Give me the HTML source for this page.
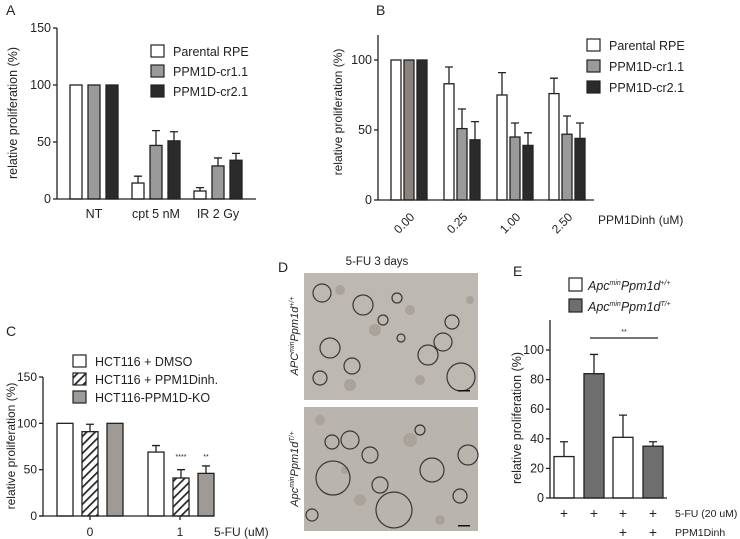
<!DOCTYPE html>
<html><head><meta charset="utf-8"><style>
html,body{margin:0;padding:0;background:#fff;}
svg{display:block;font-family:"Liberation Sans",sans-serif;}
text{fill:#222;}
</style></head><body>
<svg id="fig" width="740" height="539" viewBox="0 0 740 539">
<defs>
<pattern id="hatch" patternUnits="userSpaceOnUse" width="6" height="6" patternTransform="rotate(45)">
<rect width="6" height="6" fill="#fff"/><rect width="1.7" height="6" fill="#222"/>
</pattern>
</defs>
<text x="6" y="15" font-size="14">A</text>
<text x="376" y="15" font-size="14">B</text>
<text x="6" y="336" font-size="14">C</text>
<text x="278" y="272" font-size="14">D</text>
<text x="513" y="276" font-size="14">E</text>

<g id="pA"></g>
<g id="pB"></g>
<g id="pC"></g>
<g id="pE"></g>

<g>
<text x="377" y="265" font-size="11.5" text-anchor="middle">5-FU 3 days</text>
<rect x="304" y="273" width="174" height="127" fill="#bdb8b1"/>
<rect x="304" y="407" width="174" height="124" fill="#b9b4ad"/>
<g fill="#a9a39c">
<circle cx="340" cy="290" r="5"/><circle cx="375" cy="330" r="6"/><circle cx="410" cy="310" r="5"/><circle cx="350" cy="385" r="6"/><circle cx="420" cy="380" r="5"/><circle cx="470" cy="300" r="4"/>
<circle cx="320" cy="420" r="5"/><circle cx="360" cy="500" r="6"/><circle cx="410" cy="440" r="7"/><circle cx="440" cy="520" r="5"/><circle cx="345" cy="470" r="4"/>
</g>
<g fill="none" stroke="#3a3632" stroke-width="1.2">
<circle cx="322" cy="293" r="9"/><circle cx="363" cy="305" r="10"/><circle cx="330" cy="348" r="10"/><circle cx="352" cy="366" r="8"/>
<circle cx="397" cy="298" r="5"/><circle cx="452" cy="322" r="7"/><circle cx="428" cy="355" r="10"/><circle cx="443" cy="342" r="9"/>
<circle cx="461" cy="377" r="14"/><circle cx="320" cy="378" r="7"/><circle cx="401" cy="338" r="4"/><circle cx="383" cy="320" r="5"/>
<circle cx="370" cy="455" r="8"/><circle cx="350" cy="440" r="9"/><circle cx="332" cy="442" r="7"/><circle cx="333" cy="478" r="17"/>
<circle cx="394" cy="510" r="18"/><circle cx="432" cy="470" r="12"/><circle cx="468" cy="455" r="10"/><circle cx="460" cy="496" r="7"/>
<circle cx="380" cy="485" r="8"/><circle cx="420" cy="430" r="5"/><circle cx="312" cy="515" r="6"/>
</g>
<rect x="458" y="390" width="12" height="1.5" fill="#111"/><rect x="458" y="525" width="12" height="1.5" fill="#111"/>
<text transform="translate(298,336) rotate(-90)" font-size="11" font-style="italic" text-anchor="middle">APC<tspan font-size="7" dy="-4">min</tspan><tspan dy="4">Ppm1d</tspan><tspan font-size="7" dy="-4">+/+</tspan></text>
<text transform="translate(298,469) rotate(-90)" font-size="11" font-style="italic" text-anchor="middle">Apc<tspan font-size="7" dy="-4">min</tspan><tspan dy="4">Ppm1d</tspan><tspan font-size="7" dy="-4">T/+</tspan></text>
</g>
</svg>
<script>
// ---- Panel A data ----
const aCats = ["NT", "cpt 5 nM", "IR 2 Gy"];
const aParental = [100, 14, 7];
const aCr11 = [100, 47, 29];
const aCr21 = [100, 51, 34];
const aErrParental = [0, 6, 3];
const aErrCr11 = [0, 13, 7];
const aErrCr21 = [0, 8, 6];
const aTicks = [0, 50, 100, 150];
// ---- Panel B data ----
const bCats = ["0.00", "0.25", "1.00", "2.50"];
const bParental = [100, 83, 75, 76];
const bCr11 = [100, 51, 45, 47];
const bCr21 = [100, 43, 39, 44];
const bErrParental = [0, 12, 16, 11];
const bErrCr11 = [0, 14, 10, 13];
const bErrCr21 = [0, 13, 9, 11];
const bTicks = [0, 50, 100];
// ---- Panel C data ----
const cCats = ["0", "1"];
const cDmso = [100, 69];
const cInh = [91, 41];
const cKo = [100, 46];
const cErrDmso = [0, 7];
const cErrInh = [8, 9];
const cErrKo = [0, 8];
const cTicks = [0, 50, 100, 150];
// ---- Panel E data ----
const eValues = [28, 84, 41, 35];
const eErrors = [10, 13, 15, 3];
const eTicks = [0, 20, 40, 60, 80, 100];

const NS = "http://www.w3.org/2000/svg";
function mk(parent, tag, attrs, txt) {
  const e = document.createElementNS(NS, tag);
  for (const k in attrs) e.setAttribute(k, attrs[k]);
  if (txt !== undefined) e.textContent = txt;
  parent.appendChild(e);
  return e;
}
function scale(v0, v1, p0, p1) { return v => p0 + (v - v0) * (p1 - p0) / (v1 - v0); }

function barWithErr(g, x, w, v, err, y, fill, name) {
  const r = mk(g, "rect", {x: x, y: y(v), width: w, height: y(0) - y(v), fill: fill, stroke: "#222", "stroke-width": 1.3});
  
  
  if (err > 0) {
    const cx = x + w / 2;
    const l = mk(g, "path", {d: `M${cx},${y(v)}V${y(v + err)}M${cx - 4},${y(v + err)}H${cx + 4}`, stroke: "#222", "stroke-width": 1.3, fill: "none"});
    
    
  }
}
function yAxis(g, x, y, ticks, top, fs, name) {
  const a = mk(g, "line", {x1: x, x2: x, y1: top, y2: y(0), stroke: "#222", "stroke-width": 1.3});
  
  
  ticks.forEach(t => {
    mk(g, "line", {x1: x - 4, x2: x, y1: y(t), y2: y(t), stroke: "#222", "stroke-width": 1.3});
    const tl = mk(g, "text", {x: x - 6, y: y(t) + 4, "font-size": fs, "text-anchor": "end"}, t);
    
    
  });
}
function yTitle(g, x, yc, fs) {
  const t = mk(g, "text", {transform: `translate(${x},${yc}) rotate(-90)`, "font-size": fs, "text-anchor": "middle"}, "relative proliferation (%)");
  
  
}
function legendEntry(g, x, y, fill, label) {
  const r = mk(g, "rect", {x: x, y: y - 6, width: 13, height: 12, fill: fill, stroke: "#222", "stroke-width": 1.2});
  
  
  const t = mk(g, "text", {x: x + 22, y: y + 5, "font-size": 12.5}, label);
  
  
}

// Panel A
(function () {
  const g = document.getElementById("pA");
  const y = scale(0, 150, 199, 28);
  const starts = [70, 132, 194];
  aCats.forEach((c, i) => {
    const s = starts[i];
    barWithErr(g, s, 12, aParental[i], aErrParental[i], y, "#fff", "bar-parental-" + i);
    barWithErr(g, s + 18, 12, aCr11[i], aErrCr11[i], y, "#9a9a9a", "bar-cr11-" + i);
    barWithErr(g, s + 36, 12, aCr21[i], aErrCr21[i], y, "#2b2b2b", "bar-cr21-" + i);
    const t = mk(g, "text", {x: s + 24, y: 218, "font-size": 12.5, "text-anchor": "middle"}, c);
    
    
  });
  yAxis(g, 57, y, aTicks, 28, 12.5, "y-axis");
  mk(g, "line", {x1: 57, x2: 256, y1: y(0), y2: y(0), stroke: "#222", "stroke-width": 1.3});
  yTitle(g, 17, 113, 12.5);
  legendEntry(g, 151, 51, "#fff", "Parental RPE");
  legendEntry(g, 151, 71, "#9a9a9a", "PPM1D-cr1.1");
  legendEntry(g, 151, 91, "#2b2b2b", "PPM1D-cr2.1");
})();

// Panel B
(function () {
  const g = document.getElementById("pB");
  const y = scale(0, 100, 200, 60);
  const starts = [391, 444, 497, 549];
  bCats.forEach((c, i) => {
    const s = starts[i];
    barWithErr(g, s, 10, bParental[i], bErrParental[i], y, "#fff", "bar-parental-" + i);
    barWithErr(g, s + 13, 10, bCr11[i], bErrCr11[i], y, i === 0 ? "#8a827c" : "#9a9a9a", "bar-cr11-" + i);
    barWithErr(g, s + 26, 10, bCr21[i], bErrCr21[i], y, "#2b2b2b", "bar-cr21-" + i);
    const t = mk(g, "text", {transform: `translate(${s + 16},${226}) rotate(-45)`, "font-size": 12, "text-anchor": "middle"}, c);
    
    
  });
  yAxis(g, 378, y, bTicks, 35, 12.5, "y-axis");
  mk(g, "line", {x1: 378, x2: 594, y1: y(0), y2: y(0), stroke: "#222", "stroke-width": 1.3});
  yTitle(g, 342, 112, 12);
  const xt = mk(g, "text", {x: 598, y: 224, "font-size": 12}, "PPM1Dinh (uM)");
  
  
  legendEntry(g, 587, 45, "#fff", "Parental RPE");
  legendEntry(g, 587, 66, "#9a9a9a", "PPM1D-cr1.1");
  legendEntry(g, 587, 87, "#2b2b2b", "PPM1D-cr2.1");
})();

// Panel C
(function () {
  const g = document.getElementById("pC");
  const y = scale(0, 150, 516, 377);
  const starts = [57, 148];
  const centers = [90, 180];
  cCats.forEach((c, i) => {
    const s = starts[i];
    barWithErr(g, s, 16, cDmso[i], cErrDmso[i], y, "#fff", "bar-dmso-" + i);
    barWithErr(g, s + 25, 16, cInh[i], cErrInh[i], y, "url(#hatch)", "bar-inhibitor-" + i);
    barWithErr(g, s + 50, 16, cKo[i], cErrKo[i], y, "#a09a96", "bar-ko-" + i);
    mk(g, "line", {x1: centers[i], x2: centers[i], y1: y(0), y2: y(0) + 4, stroke: "#222", "stroke-width": 1.3});
    const t = mk(g, "text", {x: centers[i], y: 536, "font-size": 12, "text-anchor": "middle"}, c);
    
    
  });
  yAxis(g, 43, y, cTicks, 377, 12, "y-axis");
  mk(g, "line", {x1: 40, x2: 214, y1: y(0), y2: y(0), stroke: "#222", "stroke-width": 1.3});
  yTitle(g, 15, 446, 12);
  const s1 = mk(g, "text", {x: 181, y: 459, "font-size": 7, "text-anchor": "middle"}, "****");
  
  
  const s2 = mk(g, "text", {x: 206, y: 459, "font-size": 7, "text-anchor": "middle"}, "**");
  
  
  const xt = mk(g, "text", {x: 214, y: 536, "font-size": 12}, "5-FU (uM)");
  
  
  legendEntry(g, 73, 361, "#fff", "HCT116 + DMSO");
  legendEntry(g, 73, 379, "url(#hatch)", "HCT116 + PPM1Dinh.");
  legendEntry(g, 73, 397, "#a09a96", "HCT116-PPM1D-KO");
})();

// Panel E
(function () {
  const g = document.getElementById("pE");
  const y = scale(0, 100, 498, 350);
  const starts = [554, 584, 613, 643];
  const fills = ["#fff", "#6e6e6e", "#fff", "#6e6e6e"];
  eValues.forEach((v, i) => {
    barWithErr(g, starts[i], 20, v, eErrors[i], y, fills[i], "bar-e-" + i);
    const p = mk(g, "text", {x: starts[i] + 10, y: 518, "font-size": 14, "text-anchor": "middle"}, "+");
    
    
    if (i >= 2) {
      const q = mk(g, "text", {x: starts[i] + 10, y: 537, "font-size": 14, "text-anchor": "middle"}, "+");
      
      
    }
  });
  yAxis(g, 550, y, eTicks, 320, 12.5, "y-axis");
  mk(g, "line", {x1: 550, x2: 667, y1: y(0), y2: y(0), stroke: "#222", "stroke-width": 1.3});
  yTitle(g, 521, 418, 12.5);
  const sl = mk(g, "line", {x1: 590, x2: 658, y1: 338, y2: 338, stroke: "#222", "stroke-width": 1.2});
  
  
  const st = mk(g, "text", {x: 624, y: 334, "font-size": 7, "text-anchor": "middle"}, "**");
  
  
  const r1 = mk(g, "text", {x: 675, y: 517, "font-size": 10.5}, "5-FU (20 uM)");
  
  
  const r2 = mk(g, "text", {x: 675, y: 536, "font-size": 10.5}, "PPM1Dinh");
  
  
  [[285, "#fff", "+/+"], [306, "#6e6e6e", "T/+"]].forEach(([yy, f, sup]) => {
    const r = mk(g, "rect", {x: 569, y: yy - 7, width: 13, height: 13, fill: f, stroke: "#222", "stroke-width": 1.2});
    
    
    const t = mk(g, "text", {x: 588, y: yy + 5, "font-size": 12.5, "font-style": "italic"});
    
    
    t.innerHTML = `Apc<tspan font-size="7" dy="-5">min</tspan><tspan dy="5">Ppm1d</tspan><tspan font-size="7" dy="-5">${sup}</tspan>`;
  });
})();
</script>
</body></html>
